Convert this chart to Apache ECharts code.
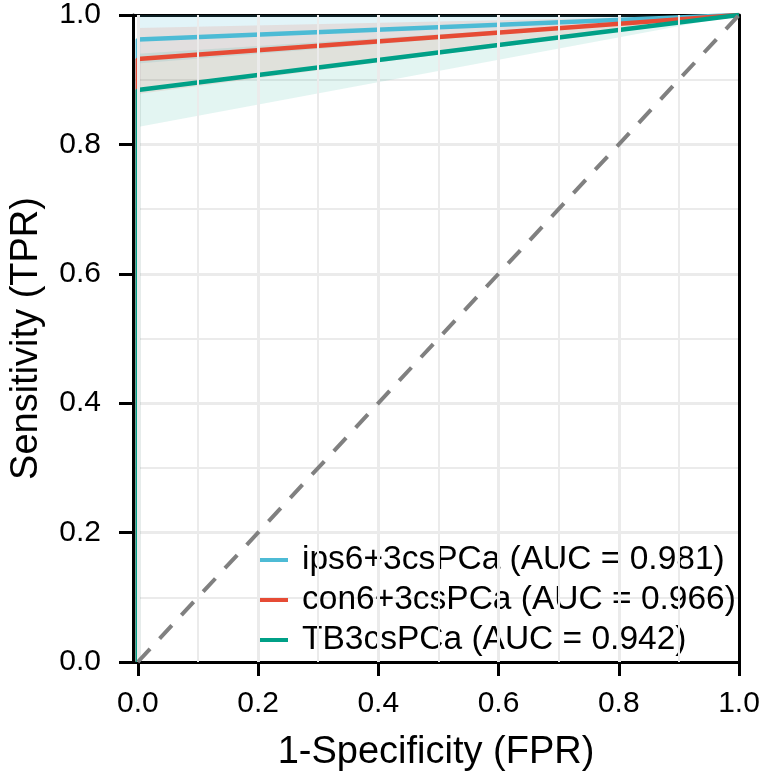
<!DOCTYPE html>
<html>
<head>
<meta charset="utf-8">
<script src="https://cdn.jsdelivr.net/npm/echarts@6/dist/echarts.min.js"></script>
<style>html,body{margin:0;padding:0;background:#fff}#c{width:766px;height:777px}</style>
</head>
<body>
<div id="c"></div>
<script>
// ---- data ----
const seriesNames = ['ips6+3csPCa (AUC = 0.981)', 'con6+3csPCa (AUC = 0.966)', 'TB3csPCa (AUC = 0.942)'];
const rocFpr = [0, 0, 1];
const tprIps = [0, 0.962, 1];
const tprCon = [0, 0.932, 1];
const tprTB  = [0, 0.884, 1];
const bandFpr = [0, 1];
const ipsLo = [0.925, 1], ipsHi = [1.0, 1];
const conLo = [0.878, 1], conHi = [0.98, 1];
const tbLo  = [0.827, 1], tbHi  = [0.94, 1];
const diagX = [0, 1], diagY = [0, 1];
const xTicks = [0, 0.2, 0.4, 0.6, 0.8, 1.0];
const xGridMajor = [0, 0.2, 0.4, 0.6, 0.8];
const xGridMinor = [0.1, 0.3, 0.5, 0.7, 0.9];

const colors = ['#4DBBD5', '#E64B35', '#00A087'];
const fills = ['rgba(77,187,213,0.16)', 'rgba(230,75,53,0.12)', 'rgba(0,160,135,0.11)'];
const FONT = '"Liberation Sans", Arial, Helvetica, sans-serif';

function pairs(xs, ys) { return xs.map((x, i) => [x, ys[i]]); }
function band(name, lo, hi, fill, z) {
  return {
    type: 'custom', name: name + ' CI', z: z, silent: true,
    data: bandFpr.map((x, i) => [x, lo[i], hi[i]]),
    encode: { x: 0, y: [1, 2] },
    renderItem: function (params, api) {
      if (params.dataIndex !== 0) return;
      const pts = [];
      for (let i = 0; i < bandFpr.length; i++) pts.push(api.coord([bandFpr[i], lo[i]]));
      for (let i = bandFpr.length - 1; i >= 0; i--) pts.push(api.coord([bandFpr[i], hi[i]]));
      return { type: 'polygon', shape: { points: pts }, style: { fill: fill, stroke: null } };
    }
  };
}
function roc(name, ys, color, z) {
  return {
    type: 'line', name: name, z: z, data: pairs(rocFpr, ys), symbol: 'none',
    lineStyle: { color: color, width: 4.5 }, itemStyle: { color: color }
  };
}

const chart = echarts.init(document.getElementById('c'), null, { renderer: 'canvas' });
chart.setOption({
  animation: false,
  backgroundColor: '#ffffff',
  grid: { left: 132, right: 27, top: 15, bottom: 114, show: false, containLabel: false },
  xAxis: [{
    type: 'value', min: -0.008, max: 1,
    name: '1-Specificity (FPR)', nameLocation: 'middle', nameGap: 72,
    nameTextStyle: { fontSize: 38, fontFamily: FONT, color: '#000' },
    axisLine: { show: true, onZero: false, lineStyle: { color: '#000', width: 3 } },
    axisTick: { show: true, length: 14, customValues: xTicks, lineStyle: { color: '#000', width: 3 } },
    axisLabel: { customValues: xTicks, margin: 27, fontSize: 30, fontFamily: FONT, color: '#000',
      formatter: v => v.toFixed(1) },
    splitLine: { show: false }
  }, {
    type: 'value', min: -0.008, max: 1, position: 'top',
    axisLine: { show: true, onZero: false, lineStyle: { color: '#000', width: 3 } },
    axisTick: { show: false }, axisLabel: { show: false }, splitLine: { show: false }
  }],
  yAxis: [{
    type: 'value', min: 0, max: 1, interval: 0.2,
    name: 'Sensitivity (TPR)', nameLocation: 'middle', nameGap: 87, nameRotate: 90,
    nameTextStyle: { fontSize: 38, fontFamily: FONT, color: '#000' },
    axisLine: { show: true, onZero: false, lineStyle: { color: '#000', width: 3 } },
    axisTick: { show: true, length: 14, lineStyle: { color: '#000', width: 3 } },
    axisLabel: { margin: 32, fontSize: 30, fontFamily: FONT, color: '#000', formatter: v => v.toFixed(1) },
    splitLine: { show: true, lineStyle: { color: '#ebebeb', width: 3 } },
    minorTick: { show: false, splitNumber: 2 },
    minorSplitLine: { show: true, lineStyle: { color: '#ebebeb', width: 2 } }
  }, {
    type: 'value', min: 0, max: 1, position: 'right',
    axisLine: { show: true, onZero: false, lineStyle: { color: '#000', width: 3 } },
    axisTick: { show: false }, axisLabel: { show: false }, splitLine: { show: false }
  }],
  legend: {
    orient: 'vertical', left: 253, top: 535, itemGap: 0,
    itemWidth: 30, itemHeight: 4, icon: 'rect',
    data: seriesNames,
    textStyle: { fontSize: 33.5, fontFamily: FONT, color: '#000', lineHeight: 40, padding: [0, 0, 0, 9] }
  },
  series: [
    {
      type: 'line', name: 'grid', z: 1, silent: true, data: [], symbol: 'none',
      markLine: {
        silent: true, symbol: ['none', 'none'], label: { show: false }, animation: false,
        lineStyle: { color: '#ebebeb', type: 'solid', width: 2 },
        data: xGridMajor.map(v => ({ xAxis: v, lineStyle: { color: '#ebebeb', width: 3, type: 'solid' } }))
          .concat(xGridMinor.map(v => ({ xAxis: v, lineStyle: { color: '#ebebeb', width: 2, type: 'solid' } })))
      }
    },
    band(seriesNames[0], ipsLo, ipsHi, fills[0], 2),
    band(seriesNames[1], conLo, conHi, fills[1], 2),
    band(seriesNames[2], tbLo, tbHi, fills[2], 2),
    roc(seriesNames[0], tprIps, colors[0], 4),
    roc(seriesNames[1], tprCon, colors[1], 4),
    roc(seriesNames[2], tprTB, colors[2], 4),
    {
      type: 'line', name: 'diagonal', z: 5, data: pairs(diagX, diagY), symbol: 'none', silent: true,
      lineStyle: { color: '#808080', width: 4, type: [18, 14] }
    }
  ]
});
</script>
</body>
</html>
